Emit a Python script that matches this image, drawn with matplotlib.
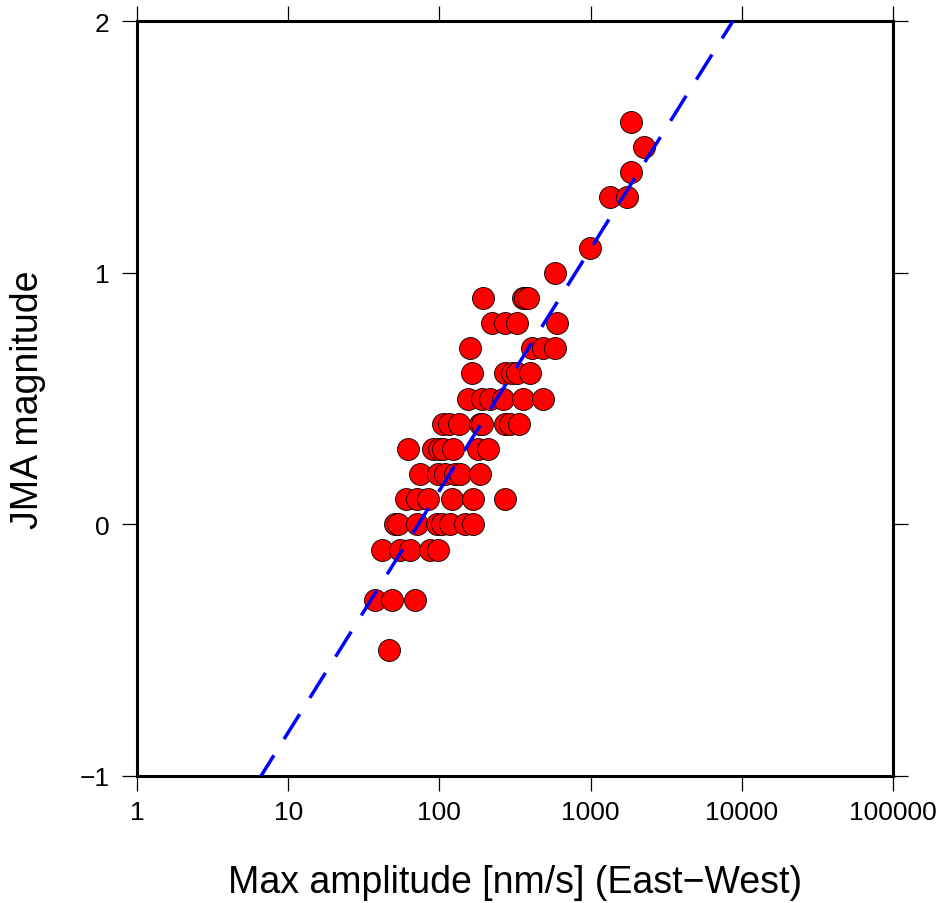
import matplotlib
matplotlib.use("Agg")
import matplotlib.pyplot as plt
import numpy as np
from matplotlib.ticker import FixedLocator, FixedFormatter

plt.rcParams["font.family"] = ["Liberation Sans", "DejaVu Sans"]

# JMA magnitude vs max amplitude (East-West), grouped by magnitude row
mag_rows = [1.6, 1.5, 1.4, 1.3, 1.1, 1.0, 0.9, 0.8, 0.7, 0.6, 0.5, 0.4, 0.3, 0.2, 0.1, 0.0, -0.1, -0.3, -0.5]
amp_rows = [
    [1850],
    [2255],
    [1850],
    [1343, 1741],
    [991],
    [582],
    [194, 357, 368, 385],
    [223, 272, 326, 600],
    [159, 410, 484, 582],
    [164, 272, 302, 326, 397],
    [155, 191, 216, 264, 357, 484],
    [106, 115, 135, 186, 191, 270, 295, 335],
    [62, 91, 100, 106, 123, 180, 210],
    [74, 98, 109, 127, 137, 186],
    [60, 71, 84, 121, 167, 272],
    [51, 53, 71, 96, 104, 117, 148, 167],
    [42, 55, 64, 87, 98],
    [37.5, 48.6, 69],
    [46.4],
]

# fitted relation: M = slope * log10(A) + intercept
fit_slope = 0.961
fit_intercept = -1.788

x_ticks = [1, 10, 100, 1000, 10000, 100000]
x_labels = ["1", "10", "100", "1000", "10000", "100000"]
y_ticks = [-1, 0, 1, 2]
y_labels = ["\u22121", "0", "1", "2"]

amps = np.concatenate([np.asarray(a, float) for a in amp_rows])
mags = np.concatenate([np.full(len(a), m) for a, m in zip(amp_rows, mag_rows)])

fig = plt.figure(figsize=(9.43, 9.04), dpi=100)
ax = fig.add_axes([137 / 943, 1 - 777 / 904, (893 - 137) / 943, (777 - 22) / 904])

ax.set_xscale("log")
ax.set_xlim(1, 1e5)
ax.set_ylim(-1, 2)

ax.scatter(amps, mags, s=250, c="#ff0000", edgecolors="black", linewidths=0.6, zorder=3)

xl = np.logspace(0, 5, 200)
ax.plot(xl, fit_slope * np.log10(xl) + fit_intercept, color="#0000ff", lw=2.5,
        dashes=(8.5, 5.5), zorder=4)

ax.xaxis.set_major_locator(FixedLocator(x_ticks))
ax.xaxis.set_major_formatter(FixedFormatter(x_labels))
ax.xaxis.set_minor_locator(FixedLocator([]))
ax.yaxis.set_major_locator(FixedLocator(y_ticks))
ax.yaxis.set_major_formatter(FixedFormatter(y_labels))

ax.tick_params(which="both", direction="out", length=11, width=0.9,
               top=True, right=True, labelsize=19)
ax.tick_params(axis="x", pad=6)
ax.tick_params(axis="y", pad=9)
for sp in ax.spines.values():
    sp.set_linewidth(2.2)

ax.set_xlabel("Max amplitude [nm/s] (East\u2212West)", fontsize=27, labelpad=29)
ax.set_ylabel("JMA magnitude", fontsize=27, labelpad=24)

fig.savefig("out.png", dpi=100)
